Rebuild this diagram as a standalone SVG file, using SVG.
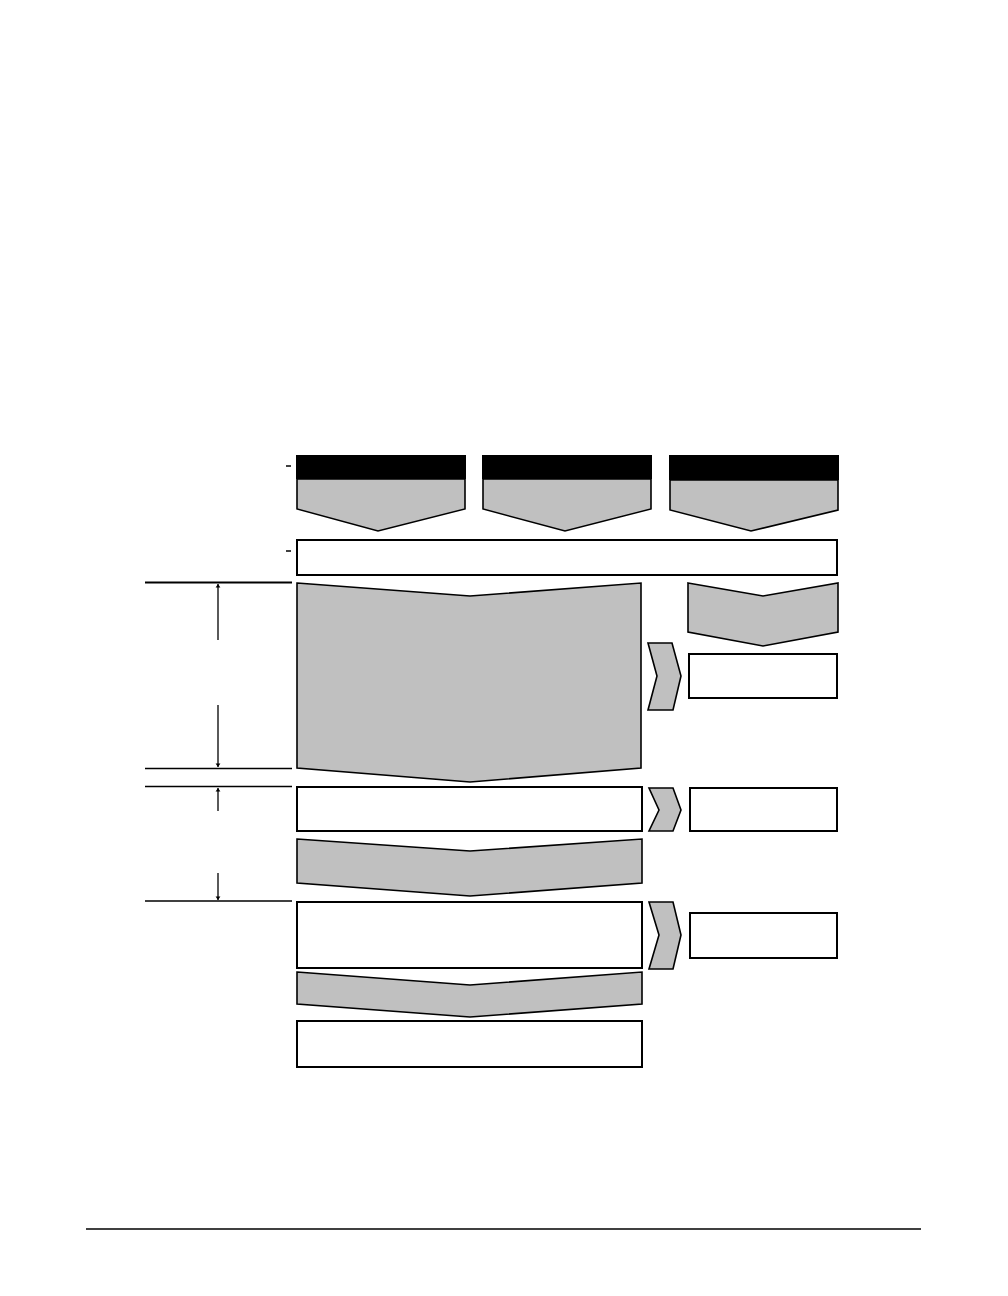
<svg xmlns="http://www.w3.org/2000/svg" width="1008" height="1296" viewBox="0 0 1008 1296">
<style>
.g{fill:#c0c0c0;stroke:#000;stroke-width:1.6;stroke-linejoin:miter}
.w{fill:#fff;stroke:#000;stroke-width:2}
.h{fill:#000}
.ln{stroke:#000;stroke-width:1.5;fill:none}
.dim{stroke:#000;stroke-width:1.3;fill:none}
</style>
<defs>
<marker id="ah" viewBox="0 0 6 10" refX="6" refY="5" markerWidth="4" markerHeight="6" orient="auto" markerUnits="userSpaceOnUse">
<path d="M0,1 L6,5 L0,9 Z" fill="#000"/>
</marker>
</defs>
<rect width="1008" height="1296" fill="#fff"/>

<g id="header1">
<polygon class="g" points="297,479 465,479 465,509 378,531 297,509"/>
<rect class="h" x="296" y="455" width="170" height="24"/>
</g>
<g id="header2">
<polygon class="g" points="483,479 651,479 651,509 565,531 483,509"/>
<rect class="h" x="482" y="455" width="170" height="24"/>
</g>
<g id="header3">
<polygon class="g" points="670,480 838,480 838,510 751,531 670,510"/>
<rect class="h" x="669" y="455" width="170" height="25"/>
</g>

<g id="bar"><rect class="w" x="297" y="540" width="540" height="35"/></g>

<g id="bigArrow"><polygon class="g" points="297,583 470,596 641,583 641,768 470,782 297,768"/></g>
<g id="rightArrow"><polygon class="g" points="688,583 763,596 838,583 838,632 763,646 688,632"/></g>
<g id="chevron1"><polygon class="g" points="648,643 672,643 681,676 673,710 648,710 657,676"/></g>
<g id="rbox1"><rect class="w" x="689" y="654" width="148" height="44"/></g>

<g id="box1"><rect class="w" x="297" y="787" width="345" height="44"/></g>
<g id="chevron2"><polygon class="g" points="649,788 673,788 681,810 673,831 649,831 659,810"/></g>
<g id="rbox2"><rect class="w" x="690" y="788" width="147" height="43"/></g>
<g id="arrow2"><polygon class="g" points="297,839 470,851 642,839 642,883 470,896 297,883"/></g>

<g id="box2"><rect class="w" x="297" y="902" width="345" height="66"/></g>
<g id="chevron3"><polygon class="g" points="649,902 673,902 681,935 673,969 649,969 659,935"/></g>
<g id="rbox3"><rect class="w" x="690" y="913" width="147" height="45"/></g>
<g id="arrow3"><polygon class="g" points="297,972 470,985 642,972 642,1004 470,1017 297,1004"/></g>
<g id="box3"><rect class="w" x="297" y="1021" width="345" height="46"/></g>

<g id="connectors">
<line class="ln" x1="286" y1="466" x2="291" y2="466"/>
<line class="ln" x1="286" y1="551" x2="291" y2="551"/>
<line x1="145" y1="582.5" x2="292" y2="582.5" stroke="#000" stroke-width="2"/>
<line class="ln" x1="145" y1="768.5" x2="292" y2="768.5"/>
<line class="ln" x1="145" y1="786.5" x2="292" y2="786.5"/>
<line class="ln" x1="145" y1="901" x2="292" y2="901"/>
<line class="dim" x1="218" y1="640" x2="218" y2="584" marker-end="url(#ah)"/>
<line class="dim" x1="218" y1="705" x2="218" y2="767" marker-end="url(#ah)"/>
<line class="dim" x1="218" y1="811" x2="218" y2="788" marker-end="url(#ah)"/>
<line class="dim" x1="218" y1="873" x2="218" y2="900" marker-end="url(#ah)"/>
<line class="ln" x1="86" y1="1229" x2="921" y2="1229"/>
</g>
</svg>
